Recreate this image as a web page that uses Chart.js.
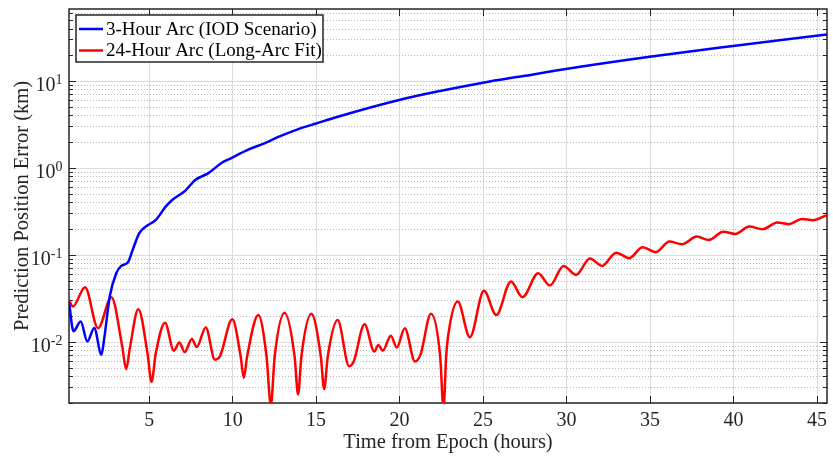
<!DOCTYPE html>
<html>
<head>
<meta charset="utf-8">
<script src="https://cdn.jsdelivr.net/npm/chart.js@4.4.0/dist/chart.umd.min.js"></script>
<style>
  html, body { margin: 0; padding: 0; background: #fff; }
  #wrap { width: 833px; height: 457px; overflow: hidden; }
</style>
</head>
<body>
<div id="wrap"><canvas id="errChart" width="833" height="457"></canvas></div>
<script>
// 3-hour arc (IOD scenario): hours from epoch / error in km
const iodHours = [0.2, 0.47, 0.9, 1.3, 1.71, 2.14, 2.3, 2.64, 3.03, 3.33, 3.72, 4.01, 4.41, 4.8, 5.4, 5.99, 6.38, 7.17, 7.76, 8.55, 9.33, 9.92, 10.9, 11.9, 12.7, 13.9, 15.05, 16.2, 19.97, 22.5, 25.0, 27.5, 29.96, 34.98, 39.97, 45.6];
const iodError = [0.029, 0.0134, 0.0173, 0.0102, 0.0146, 0.0072, 0.0107, 0.0335, 0.062, 0.0755, 0.0824, 0.115, 0.18, 0.214, 0.255, 0.363, 0.433, 0.554, 0.735, 0.88, 1.15, 1.31, 1.63, 1.94, 2.28, 2.81, 3.30, 3.87, 6.11, 7.8, 9.66, 11.6, 13.9, 19.2, 25.5, 34.6];

// 24-hour arc (long-arc fit)
const longHours = [0.2, 0.43, 1.16, 1.94, 2.74, 3.39, 3.62, 3.86, 4.35, 4.9, 5.14, 5.4, 5.95, 6.48, 6.81, 7.13, 7.56, 7.85, 8.39, 8.94, 9.24, 9.98, 10.48, 10.67, 10.87, 11.54, 12.03, 12.29, 12.52, 13.11, 13.71, 13.92, 14.12, 14.71, 15.28, 15.48, 15.7, 16.29, 16.98, 17.25, 17.9, 18.49, 18.73, 18.99, 19.48, 19.83, 20.31, 20.92, 21.25, 21.88, 22.43, 22.63, 22.79, 22.93, 23.48, 24.21, 25.05, 25.79, 26.67, 27.36, 28.3, 29.0, 29.82, 30.57, 31.4, 32.13, 32.97, 33.76, 34.55, 35.34, 36.16, 36.91, 37.8, 38.53, 39.38, 40.1, 40.95, 41.74, 42.63, 43.32, 44.1, 44.73, 45.6];
const longError = [0.031, 0.0257, 0.043, 0.0145, 0.033, 0.0089, 0.0049, 0.0089, 0.024, 0.0075, 0.0035, 0.0075, 0.0168, 0.0080, 0.0099, 0.0077, 0.0109, 0.0088, 0.0148, 0.0063, 0.0069, 0.0184, 0.0069, 0.0039, 0.0069, 0.0206, 0.0069, 0.0019, 0.0069, 0.0219, 0.0069, 0.0025, 0.0069, 0.0212, 0.0069, 0.0029, 0.0069, 0.018, 0.0053, 0.006, 0.0161, 0.0078, 0.0093, 0.0080, 0.0119, 0.0087, 0.0145, 0.006, 0.0072, 0.0212, 0.0069, 0.0017, 0.0069, 0.0127, 0.0294, 0.0114, 0.039, 0.0206, 0.0499, 0.033, 0.0622, 0.0449, 0.0755, 0.0595, 0.092, 0.0755, 0.107, 0.0927, 0.124, 0.1086, 0.1436, 0.134, 0.164, 0.150, 0.187, 0.176, 0.214, 0.1995, 0.238, 0.228, 0.262, 0.253, 0.29];

const xTickHours = [5, 10, 15, 20, 25, 30, 35, 40, 45];
const yDecades = [0.01, 0.1, 1, 10];
const yExponents = ['-2', '-1', '0', '1'];

const FONT = "'Liberation Serif', 'Times New Roman', serif";
const INK = '#262626';

// every 1..9 step of each decade between the axis limits
const yMin = 0.002, yMax = 68;
const yGridValues = [];
for (let d = 0.001; d < 100; d *= 10) {
  for (let k = 1; k <= 9; k++) {
    const v = +(k * d).toPrecision(3);
    if (v >= yMin && v <= yMax) yGridValues.push(v);
  }
}

const frameAndTicks = {
  id: 'frameAndTicks',
  beforeDatasetsDraw(chart) {
    const { ctx, chartArea: a, scales: { x, y } } = chart;
    ctx.save();
    ctx.strokeStyle = INK;
    ctx.lineWidth = 1;
    ctx.beginPath();
    x.ticks.forEach(t => {
      const px = Math.round(x.getPixelForValue(t.value) - 0.5) + 0.5;
      ctx.moveTo(px, a.bottom); ctx.lineTo(px, a.bottom - 7);
      ctx.moveTo(px, a.top); ctx.lineTo(px, a.top + 7);
    });
    y.ticks.forEach(t => {
      const py = Math.round(y.getPixelForValue(t.value) - 0.5) + 0.5;
      const len = t.major ? 7 : 4;
      ctx.moveTo(a.left, py); ctx.lineTo(a.left + len, py);
      ctx.moveTo(a.right, py); ctx.lineTo(a.right - len, py);
    });
    ctx.stroke();
    ctx.lineWidth = 1.5;
    ctx.strokeRect(a.left, a.top, a.right - a.left, a.bottom - a.top);
    ctx.restore();
  }
};

// 10^n labels with a raised exponent
const powerLabels = {
  id: 'powerLabels',
  afterDraw(chart) {
    const { ctx, scales: { y } } = chart;
    const rightEdge = 62.5;
    ctx.save();
    ctx.fillStyle = INK;
    ctx.textBaseline = 'alphabetic';
    yDecades.forEach((v, i) => {
      const py = y.getPixelForValue(v);
      ctx.font = '14px ' + FONT;
      const we = ctx.measureText(yExponents[i]).width;
      ctx.fillText(yExponents[i], rightEdge - we, py + 3);
      ctx.font = '20px ' + FONT;
      const wb = ctx.measureText('10').width;
      ctx.fillText('10', rightEdge - we - wb, py + 10);
    });
    ctx.restore();
  }
};

const boxLegend = {
  id: 'boxLegend',
  afterDraw(chart) {
    const { ctx } = chart;
    const bx = 76, by = 15, bw = 247, bh = 47;
    ctx.save();
    ctx.fillStyle = '#fff';
    ctx.fillRect(bx, by, bw, bh);
    ctx.strokeStyle = INK;
    ctx.lineWidth = 1.5;
    ctx.strokeRect(bx, by, bw, bh);
    ctx.font = '19px ' + FONT;
    ctx.textBaseline = 'middle';
    chart.data.datasets.forEach((ds, i) => {
      const ly = by + 14 + i * 21.5;
      ctx.strokeStyle = ds.borderColor;
      ctx.lineWidth = 2.5;
      ctx.beginPath();
      ctx.moveTo(bx + 3, ly);
      ctx.lineTo(bx + 27, ly);
      ctx.stroke();
      ctx.fillStyle = '#000';
      ctx.fillText(ds.label, bx + 30, ly + 1);
    });
    ctx.restore();
  }
};

const toPoints = (xs, ys) => xs.map((t, i) => ({ x: t, y: ys[i] }));

new Chart(document.getElementById('errChart'), {
  type: 'line',
  data: {
    datasets: [
      {
        label: '3-Hour Arc (IOD Scenario)',
        data: toPoints(iodHours, iodError),
        borderColor: '#0000ff',
        borderWidth: 2.5,
        pointRadius: 0,
        cubicInterpolationMode: 'monotone',
        clip: 0
      },
      {
        label: '24-Hour Arc (Long-Arc Fit)',
        data: toPoints(longHours, longError),
        borderColor: '#ff0000',
        borderWidth: 2.5,
        pointRadius: 0,
        cubicInterpolationMode: 'monotone',
        clip: 0
      }
    ]
  },
  options: {
    responsive: false,
    animation: false,
    events: [],
    layout: { padding: { top: 9, right: -4, bottom: 0, left: 0 } },
    plugins: { legend: { display: false }, tooltip: { enabled: false } },
    scales: {
      x: {
        type: 'linear',
        min: 0.2,
        max: 45.6,
        afterBuildTicks: s => { s.ticks = xTickHours.map(v => ({ value: v })); },
        afterFit: s => { s.height = 54; },
        ticks: { autoSkip: false, maxRotation: 0, padding: 6, color: INK, font: { family: FONT, size: 20 } },
        grid: { color: '#dcdcdc', lineWidth: 1, drawTicks: false },
        border: { display: false },
        title: { display: true, text: 'Time from Epoch (hours)', color: INK, font: { family: FONT, size: 20.5 }, padding: { top: 0, bottom: 2 } }
      },
      y: {
        type: 'logarithmic',
        min: yMin,
        max: yMax,
        afterBuildTicks: s => {
          s.ticks = yGridValues.map(v => ({ value: v, major: yDecades.includes(v) }));
        },
        afterFit: s => { s.width = 69; },
        ticks: { display: false, autoSkip: false },
        grid: {
          drawTicks: false,
          lineWidth: 1,
          color: c => (c.tick && c.tick.major) ? '#dcdcdc' : '#b8b8b8'
        },
        border: {
          display: false,
          dash: c => (c.tick && !c.tick.major) ? [1, 2] : []
        },
        title: { display: true, text: 'Prediction Position Error (km)', color: INK, font: { family: FONT, size: 20.5 }, padding: { top: 10, bottom: 0 } }
      }
    }
  },
  plugins: [frameAndTicks, powerLabels, boxLegend]
});
</script>
</body>
</html>
